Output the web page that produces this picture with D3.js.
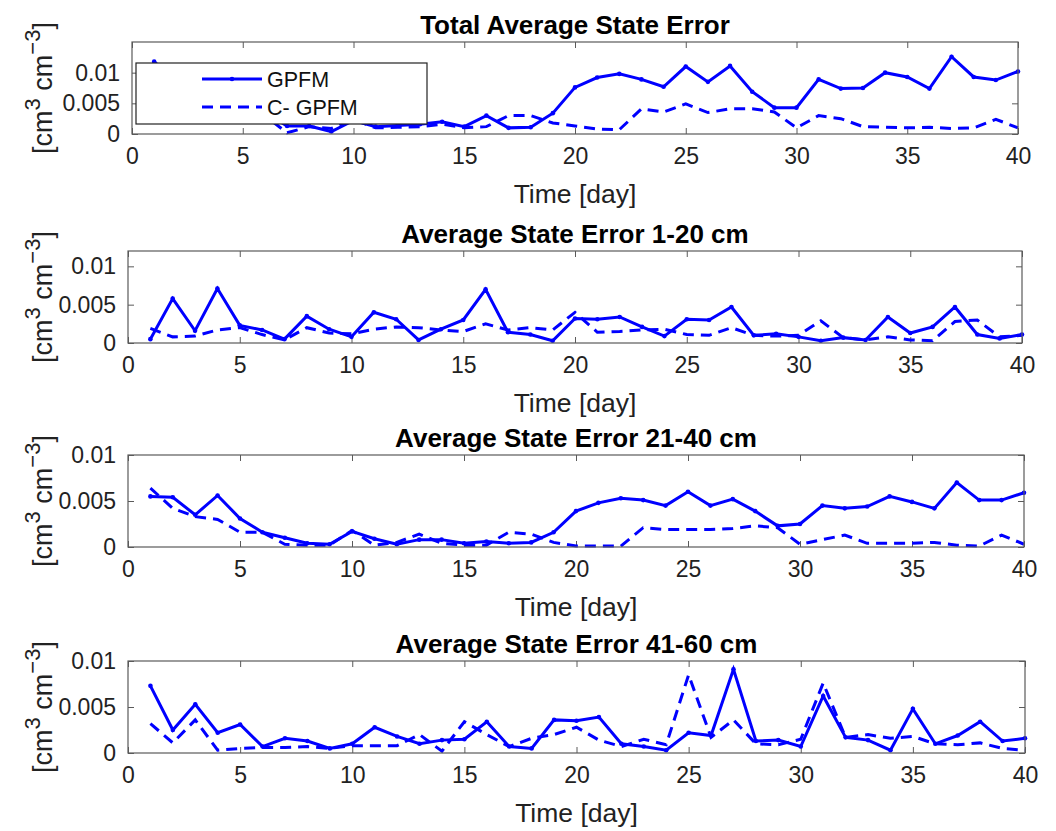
<!DOCTYPE html>
<html>
<head>
<meta charset="utf-8">
<script src="https://cdn.jsdelivr.net/npm/d3@7.9.0/dist/d3.min.js"></script>
<style>
  body { margin: 0; background: #fff; }
  svg { display: block; font-family: "Liberation Sans", Arial, sans-serif; }
</style>
</head>
<body>
<svg id="chart" width="1056" height="831"></svg>
<script>
// days on the x axis
const days = [1,2,3,4,5,6,7,8,9,10,11,12,13,14,15,16,17,18,19,20,
              21,22,23,24,25,26,27,28,29,30,31,32,33,34,35,36,37,38,39,40];

const titles = [
  'Total Average State Error',
  'Average State Error 1-20 cm',
  'Average State Error 21-40 cm',
  'Average State Error 41-60 cm'
];

const seriesNames = ['GPFM', 'C- GPFM'];
const yTicks = [0, 0.005, 0.01];
const yTickLabels = ['0', '0.005', '0.01'];
const xTicks = [0, 5, 10, 15, 20, 25, 30, 35, 40];

// total
const totalGPFM = [0.0118,0.0085,0.006,0.0075,0.005,0.0035,0.0013,0.0013,0.0004,0.0022,
  0.0012,0.0014,0.0016,0.002,0.0012,0.003,0.001,0.0011,0.0034,0.0076,
  0.0092,0.0098,0.0089,0.0077,0.011,0.0085,0.0111,0.0069,0.0043,0.0043,
  0.0089,0.0074,0.0075,0.01,0.0093,0.0074,0.0126,0.0093,0.0088,0.0102];
const totalCGPFM = [0.006,0.004,0.0045,0.0035,0.004,0.003,0.0002,0.0012,0.0009,0.0024,
  0.001,0.0011,0.0012,0.0016,0.001,0.0012,0.003,0.003,0.0018,0.0013,
  0.0008,0.0007,0.0041,0.0036,0.0049,0.0035,0.0041,0.0041,0.0036,0.001,
  0.003,0.0025,0.0012,0.0011,0.001,0.0011,0.0009,0.001,0.0024,0.001];

// 1-20 cm
const layer1GPFM = [0.0005,0.0058,0.0016,0.0071,0.0023,0.0017,0.0005,0.0035,0.0018,0.0008,
  0.004,0.0031,0.0004,0.0018,0.003,0.007,0.0014,0.0011,0.0003,0.0032,
  0.0031,0.0034,0.0021,0.0009,0.0031,0.003,0.0047,0.001,0.0012,0.0008,
  0.0003,0.0007,0.0004,0.0034,0.0013,0.0021,0.0047,0.0011,0.0006,0.0011];
const layer1CGPFM = [0.0019,0.0008,0.0009,0.0017,0.002,0.0011,0.0004,0.002,0.0013,0.0012,
  0.0018,0.0021,0.002,0.0017,0.0015,0.0025,0.0017,0.002,0.0017,0.004,
  0.0014,0.0015,0.0017,0.0018,0.0011,0.001,0.002,0.001,0.0009,0.001,
  0.0029,0.0007,0.0004,0.0008,0.0004,0.0003,0.0028,0.003,0.0008,0.001];

// 21-40 cm
const layer2GPFM = [0.0055,0.0054,0.0035,0.0056,0.0031,0.0016,0.001,0.0004,0.0003,0.0017,
  0.0009,0.0003,0.0008,0.0008,0.0004,0.0006,0.0004,0.0005,0.0016,0.0039,
  0.0048,0.0053,0.0051,0.0045,0.006,0.0045,0.0052,0.0039,0.0023,0.0025,
  0.0045,0.0042,0.0044,0.0055,0.0049,0.0042,0.007,0.0051,0.0051,0.0059];
const layer2CGPFM = [0.0064,0.0042,0.0033,0.003,0.0016,0.0016,0.0003,0.0002,0.0002,0.0018,
  0.0002,0.0005,0.0014,0.0004,0.0002,0.0002,0.0016,0.0014,0.0005,0.0001,
  0.0001,0.0001,0.0021,0.0019,0.0019,0.0019,0.002,0.0023,0.0021,0.0003,
  0.0008,0.0013,0.0004,0.0004,0.0004,0.0005,0.0002,0.0001,0.0013,0.0003];

// 41-60 cm
const layer3GPFM = [0.0073,0.0025,0.0053,0.0022,0.0031,0.0007,0.0016,0.0013,0.0005,0.001,
  0.0028,0.0018,0.001,0.0014,0.0015,0.0034,0.0007,0.0005,0.0036,0.0035,
  0.0039,0.001,0.0007,0.0003,0.0022,0.0019,0.0091,0.0013,0.0014,0.0007,
  0.0062,0.0017,0.0014,0.0003,0.0048,0.001,0.0019,0.0034,0.0013,0.0016];
const layer3CGPFM = [0.0032,0.0011,0.0036,0.0003,0.0005,0.0006,0.0006,0.0007,0.0005,0.0008,
  0.0008,0.0008,0.002,0.0002,0.0034,0.002,0.0007,0.0016,0.002,0.0028,
  0.0014,0.0007,0.0015,0.0009,0.0085,0.0017,0.0036,0.001,0.0009,0.0015,
  0.0076,0.0017,0.002,0.0016,0.0018,0.001,0.0009,0.0011,0.0005,0.0003];

const panelData = [
  [totalGPFM, totalCGPFM],
  [layer1GPFM, layer1CGPFM],
  [layer2GPFM, layer2CGPFM],
  [layer3GPFM, layer3CGPFM]
];
const yMax = [0.015, 0.012, 0.01, 0.01];

// panel boxes in pixels
const boxes = [
  { left: 132, right: 1018, top: 42, bottom: 134 },
  { left: 128, right: 1022, top: 251, bottom: 343 },
  { left: 128, right: 1024, top: 455, bottom: 547 },
  { left: 128, right: 1025, top: 661, bottom: 753 }
];

const blue = '#0000ff';
const axisColor = '#5a5a5a';
const svg = d3.select('#chart');

panelData.forEach((series, i) => {
  const b = boxes[i];
  const x = d3.scaleLinear().domain([0, 40]).range([b.left, b.right]);
  const y = d3.scaleLinear().domain([0, yMax[i]]).range([b.bottom, b.top]);
  const g = svg.append('g');

  // bottom axis with inward ticks
  const xAxis = g.append('g')
    .attr('transform', `translate(0,${b.bottom})`)
    .call(d3.axisBottom(x).tickValues(xTicks).tickSizeInner(-6).tickSizeOuter(0).tickPadding(14));
  xAxis.select('.domain').remove();
  xAxis.selectAll('.tick line').attr('stroke', axisColor);
  xAxis.selectAll('.tick text').attr('font-size', 23).attr('fill', '#222')
    .attr('font-family', '"Liberation Sans", Arial, sans-serif');

  // top ticks
  const xTop = g.append('g')
    .attr('transform', `translate(0,${b.top})`)
    .call(d3.axisTop(x).tickValues(xTicks).tickSizeInner(-6).tickSizeOuter(0).tickFormat(''));
  xTop.select('.domain').remove();
  xTop.selectAll('.tick line').attr('stroke', axisColor);

  // left axis
  const yAxis = g.append('g')
    .attr('transform', `translate(${b.left},0)`)
    .call(d3.axisLeft(y).tickValues(yTicks).tickSizeInner(-6).tickSizeOuter(0).tickPadding(12)
      .tickFormat((d, k) => yTickLabels[k]));
  yAxis.select('.domain').remove();
  yAxis.selectAll('.tick line').attr('stroke', axisColor);
  yAxis.selectAll('.tick text').attr('font-size', 23).attr('fill', '#222')
    .attr('font-family', '"Liberation Sans", Arial, sans-serif');

  // right ticks
  const yRight = g.append('g')
    .attr('transform', `translate(${b.right},0)`)
    .call(d3.axisRight(y).tickValues(yTicks).tickSizeInner(-6).tickSizeOuter(0).tickFormat(''));
  yRight.select('.domain').remove();
  yRight.selectAll('.tick line').attr('stroke', axisColor);

  // lines
  const line = d3.line().x((d, k) => x(days[k])).y(d => y(d));
  g.append('path').datum(series[0])
    .attr('d', line).attr('fill', 'none').attr('stroke', blue)
    .attr('stroke-width', 3).attr('stroke-linejoin', 'miter');
  g.selectAll('circle.pt').data(series[0]).join('circle')
    .attr('class', 'pt')
    .attr('cx', (d, k) => x(days[k])).attr('cy', d => y(d))
    .attr('r', 2.3).attr('fill', blue);
  g.append('path').datum(series[1])
    .attr('d', line).attr('fill', 'none').attr('stroke', blue)
    .attr('stroke-width', 3).attr('stroke-dasharray', '11,7');

  // box
  g.append('rect')
    .attr('x', b.left).attr('y', b.top)
    .attr('width', b.right - b.left).attr('height', b.bottom - b.top)
    .attr('fill', 'none').attr('stroke', axisColor).attr('stroke-width', 1.2);

  // title
  g.append('text')
    .attr('x', (b.left + b.right) / 2).attr('y', b.top - 8)
    .attr('text-anchor', 'middle').attr('font-size', 26).attr('font-weight', 'bold')
    .attr('fill', '#000').text(titles[i]);

  // x label
  g.append('text')
    .attr('x', (b.left + b.right) / 2).attr('y', b.bottom + 69)
    .attr('text-anchor', 'middle').attr('font-size', 26.5).attr('fill', '#222')
    .text('Time [day]');

  // y label
  const yl = g.append('text')
    .attr('transform', `translate(52,${(b.top + b.bottom) / 2}) rotate(-90)`)
    .attr('text-anchor', 'middle').attr('font-size', 27).attr('fill', '#222');
  yl.append('tspan').text('[cm');
  yl.append('tspan').attr('dy', -12).attr('font-size', 22).text('3');
  yl.append('tspan').attr('dy', 12).text(' cm');
  yl.append('tspan').attr('dy', -12).attr('font-size', 22).text('\u22123');
  yl.append('tspan').attr('dy', 12).text(']');
});

// legend in the first panel
const leg = svg.append('g');
leg.append('rect')
  .attr('x', 136).attr('y', 63).attr('width', 291).attr('height', 61)
  .attr('fill', '#fff').attr('stroke', '#222').attr('stroke-width', 1.2);
const legendRows = [
  { name: seriesNames[0], y: 79, dash: null },
  { name: seriesNames[1], y: 107, dash: '11,7' }
];
legendRows.forEach(r => {
  leg.append('line')
    .attr('x1', 202).attr('x2', 262).attr('y1', r.y).attr('y2', r.y)
    .attr('stroke', blue).attr('stroke-width', 3)
    .attr('stroke-dasharray', r.dash);
  if (!r.dash) {
    leg.append('circle').attr('cx', 232).attr('cy', r.y).attr('r', 2.3).attr('fill', blue);
  }
  leg.append('text')
    .attr('x', 267).attr('y', r.y + 8)
    .attr('font-size', 21.5).attr('fill', '#111').text(r.name);
});
</script>
</body>
</html>
